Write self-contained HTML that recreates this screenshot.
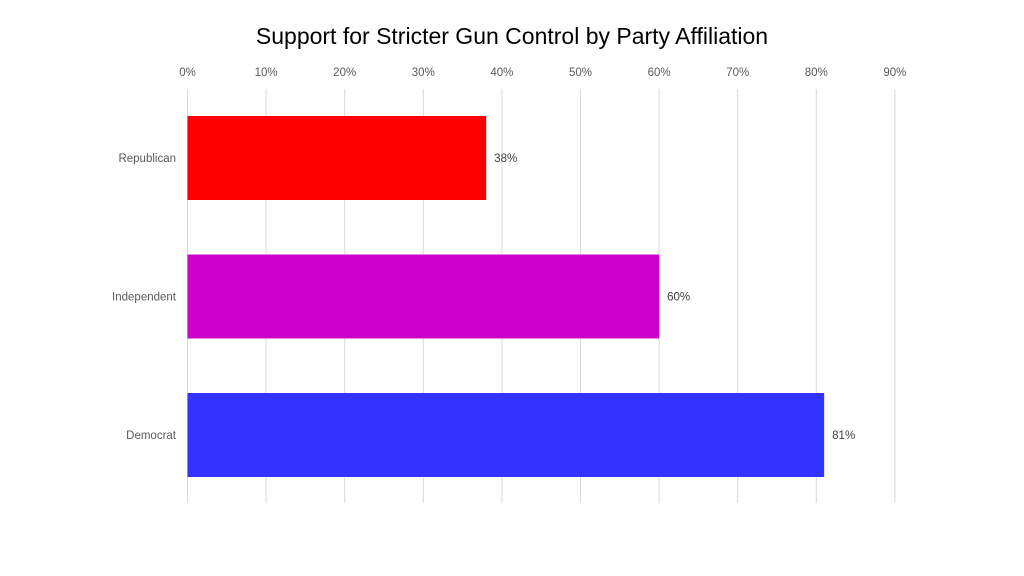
<!DOCTYPE html>
<html><head><meta charset="utf-8"><style>
body{margin:0;background:#fff;}
svg{display:block;font-family:"Liberation Sans",sans-serif;}
</style></head><body>
<svg id="chart" width="1024" height="576">
<text x="512" y="44" text-anchor="middle" font-size="23" fill="#000">Support for Stricter Gun Control by Party Affiliation</text>
<g id="grid"></g><g id="bars"></g>
</svg>
<script>
const categories = ["Republican","Independent","Democrat"];
const values = [38,60,81];
const colors = ["#ff0000","#cc00cc","#3333ff"];
const ticks = [0,10,20,30,40,50,60,70,80,90];
const NS="http://www.w3.org/2000/svg";
const x0=187.5, pxPer=78.6;
const xs=v=>x0+v*pxPer/10;
const bandTop=89, band=138.5, barH=84, barOff=27;
const grid=document.getElementById('grid'), bars=document.getElementById('bars');
function mk(t,a,p){const e=document.createElementNS(NS,t);for(const k in a)e.setAttribute(k,a[k]);p.appendChild(e);return e;}
ticks.forEach(t=>{
  const l=mk('line',{x1:xs(t),x2:xs(t),y1:89,y2:503,stroke:'#d9d9d9','stroke-width':1},grid);
  
  
  const tx=mk('text',{x:xs(t),y:76,'text-anchor':'middle','font-size':11.5,fill:'#595959'},grid);
  tx.textContent=t+'%';
  
  
});
categories.forEach((c,i)=>{
  const y=bandTop+i*band+barOff;
  const r=mk('rect',{x:x0,y:y,width:xs(values[i])-x0,height:barH,fill:colors[i]},bars);
  
  
  const lb=mk('text',{x:176,y:y+barH/2+4,'text-anchor':'end','font-size':11.5,fill:'#595959'},bars);
  lb.textContent=c;
  
  
  const v=mk('text',{x:xs(values[i])+8,y:y+barH/2+4,'font-size':11.5,fill:'#404040'},bars);
  v.textContent=values[i]+'%';
  
  
});
</script>
</body></html>
